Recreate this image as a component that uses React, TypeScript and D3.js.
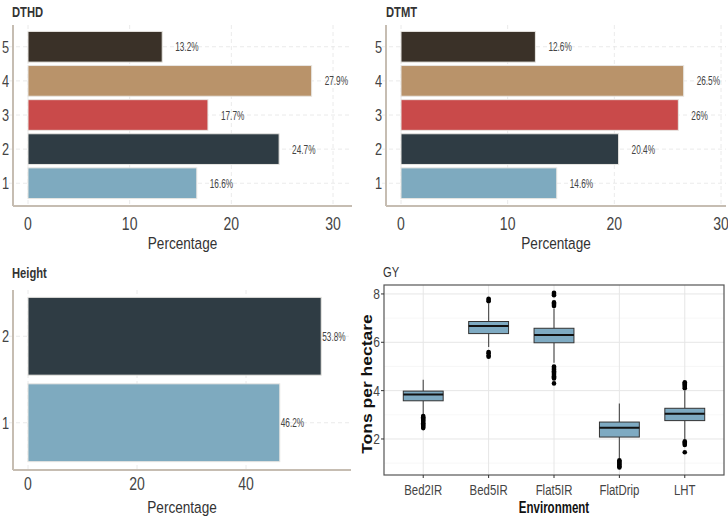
import React from "react";
import * as d3 from "d3";

const levels5 = ["1", "2", "3", "4", "5"];
const dthdValues = [16.6, 24.7, 17.7, 27.9, 13.2];
const dthdLabels = ["16.6%", "24.7%", "17.7%", "27.9%", "13.2%"];
const dtmtValues = [14.6, 20.4, 26, 26.5, 12.6];
const dtmtLabels = ["14.6%", "20.4%", "26%", "26.5%", "12.6%"];
const levels2 = ["1", "2"];
const heightValues = [46.2, 53.8];
const heightLabels = ["46.2%", "53.8%"];
const barColors = ["#7eaabf", "#2f3c44", "#c94a4a", "#b9936a", "#3a3128"];

const envs = ["Bed2IR", "Bed5IR", "Flat5IR", "FlatDrip", "LHT"];
const gyQ1 = [3.58, 6.36, 5.98, 2.08, 2.76];
const gyMedian = [3.84, 6.67, 6.3, 2.46, 3.04];
const gyQ3 = [3.98, 6.86, 6.58, 2.7, 3.27];
const gyLow = [3.0, 5.8, 5.15, 1.2, 2.0];
const gyHigh = [4.45, 7.6, 7.4, 3.47, 4.0];
const gyOutliers = [
  [2.95, 2.9, 2.85, 2.8, 2.75, 2.7, 2.65, 2.6, 2.55, 2.5, 2.45],
  [7.8, 7.75, 7.7, 5.6, 5.55, 5.45, 5.4],
  [8.05, 8.0, 7.95, 7.65, 7.6, 7.55, 7.5, 5.0, 4.95, 4.9, 4.85, 4.8, 4.75, 4.7, 4.65, 4.6, 4.55, 4.5, 4.3],
  [1.12, 1.07, 1.02, 0.97, 0.92, 0.87, 0.82],
  [4.35, 4.3, 4.25, 4.2, 4.15, 4.1, 1.9, 1.85, 1.8, 1.75, 1.45],
];
const gyTicks = [2, 4, 6, 8];
const gyMinor = [1, 3, 5, 7];

const FONT = "'Liberation Sans', Arial, sans-serif";
const AXIS = "#c6bdb2";

type CTextProps = {
  x: number;
  y: number;
  sx?: number;
  size: number;
  anchor?: "start" | "middle" | "end";
  bold?: boolean;
  fill?: string;
  children: React.ReactNode;
};

function CText({ x, y, sx = 0.8, size, anchor = "start", bold = false, fill = "#444", children }: CTextProps) {
  return (
    <text
      transform={`translate(${x},${y}) scale(${sx},1)`}
      textAnchor={anchor}
      fontFamily={FONT}
      fontWeight={bold ? "bold" : "normal"}
      fontSize={size}
      fill={fill}
    >
      {children}
    </text>
  );
}

type BarPanelProps = {
  title: string;
  titleX: number;
  titleY: number;
  levels: string[];
  values: number[];
  labels: string[];
  colors: string[];
  xDomain: [number, number];
  xRange: [number, number];
  xTicks: number[];
  yTop: number;
  yBottom: number;
  axisX: number;
  axisRight: number;
  labelOffset: number;
  tickOffset: number;
  paddingInner: number;
  paddingOuter: number;
};

function BarPanel(p: BarPanelProps) {
  const x = d3.scaleLinear().domain(p.xDomain).range(p.xRange);
  const y = d3
    .scaleBand()
    .domain(p.levels)
    .range([p.yBottom, p.yTop])
    .paddingInner(p.paddingInner)
    .paddingOuter(p.paddingOuter);
  const axisY = p.yBottom + 4;
  return (
    <g>
      <CText x={p.titleX} y={p.titleY} size={14} bold fill="#333">
        {p.title}
      </CText>
      {p.xTicks.map((t) => (
        <line key={"gx" + t} x1={x(t)} x2={x(t)} y1={p.yTop - 3} y2={axisY} stroke="#e4e4e4" strokeDasharray="4,3" strokeWidth={0.8} />
      ))}
      {p.levels.map((l) => {
        const cy = (y(l) as number) + y.bandwidth() / 2;
        return (
          <line key={"gy" + l} x1={p.axisX - 4} x2={p.axisRight} y1={cy} y2={cy} stroke="#e4e4e4" strokeDasharray="4,3" strokeWidth={0.8} />
        );
      })}
      {p.levels.map((l, i) => {
        const y0 = y(l) as number;
        const cy = y0 + y.bandwidth() / 2;
        return (
          <g key={"b" + l}>
            <rect
              x={x(0)}
              y={y0}
              width={x(p.values[i]) - x(0)}
              height={y.bandwidth()}
              fill={p.colors[i]}
              stroke="#e8e6e2"
              strokeWidth={1}
            />
            <CText x={x(p.values[i]) + p.labelOffset} y={cy + 4.5} size={12.5} sx={0.66} fill="#444">
              {p.labels[i]}
            </CText>
            <CText x={p.axisX - 4} y={cy + 6} size={17} sx={0.75} anchor="end" fill="#444">
              {l}
            </CText>
          </g>
        );
      })}
      <line x1={p.axisX} x2={p.axisX} y1={p.yTop - 3} y2={axisY} stroke={AXIS} strokeWidth={2} />
      <line x1={p.axisX} x2={p.axisRight} y1={axisY} y2={axisY} stroke={AXIS} strokeWidth={2} />
      {p.xTicks.map((t) => (
        <CText key={"tx" + t} x={x(t)} y={axisY + p.tickOffset} size={18} sx={0.78} anchor="middle" fill="#444">
          {t}
        </CText>
      ))}
      <CText x={(p.axisX + p.axisRight) / 2} y={axisY + 43} size={17} sx={0.8} anchor="middle" fill="#333">
        Percentage
      </CText>
    </g>
  );
}

function BoxPanel() {
  const left = 384,
    right = 724,
    top = 285,
    bottom = 475;
  const x = d3.scalePoint().domain(envs).range([left, right]).padding(0.6);
  const bw = x.step() * 0.61;
  const y = d3.scaleLinear().domain([0.51, 8.37]).range([bottom, top]);
  return (
    <g>
      <CText x={383} y={277} size={14} sx={0.8} fill="#333">
        GY
      </CText>
      <rect x={left} y={top} width={right - left} height={bottom - top} fill="white" />
      {gyMinor.map((t) => (
        <line key={"mn" + t} x1={left} x2={right} y1={y(t)} y2={y(t)} stroke="#f2f2f2" strokeWidth={0.6} />
      ))}
      {gyTicks.map((t) => (
        <line key={"mj" + t} x1={left} x2={right} y1={y(t)} y2={y(t)} stroke="#e6e6e6" strokeWidth={1} />
      ))}
      {envs.map((e) => {
        const cx = x(e) as number;
        return <line key={"vx" + e} x1={cx} x2={cx} y1={top} y2={bottom} stroke="#e6e6e6" strokeWidth={1} />;
      })}
      {envs.map((e, i) => {
        const cx = x(e) as number;
        const x0 = cx - bw / 2;
        return (
          <g key={"box" + e}>
            <line x1={cx} x2={cx} y1={y(gyHigh[i])} y2={y(gyQ3[i])} stroke="#555" strokeWidth={1.2} />
            <line x1={cx} x2={cx} y1={y(gyQ1[i])} y2={y(gyLow[i])} stroke="#555" strokeWidth={1.2} />
            <rect
              x={x0}
              y={y(gyQ3[i])}
              width={bw}
              height={y(gyQ1[i]) - y(gyQ3[i])}
              fill="#7eaac2"
              stroke="#333"
              strokeWidth={1}
            />
            <line x1={x0} x2={x0 + bw} y1={y(gyMedian[i])} y2={y(gyMedian[i])} stroke="#111" strokeWidth={2} />
            {gyOutliers[i].map((v, k) => (
              <circle key={k} cx={cx} cy={y(v)} r={2.3} fill="#000" />
            ))}
          </g>
        );
      })}
      <rect x={left} y={top} width={right - left} height={bottom - top} fill="none" stroke="#555" strokeWidth={1.2} />
      {gyTicks.map((t) => (
        <g key={"yt" + t}>
          <line x1={left - 3} x2={left} y1={y(t)} y2={y(t)} stroke="#333" />
          <CText x={left - 4} y={y(t) + 5} size={15} sx={0.8} anchor="end" fill="#444">
            {t}
          </CText>
        </g>
      ))}
      {envs.map((e) => {
        const cx = x(e) as number;
        return (
          <g key={"xt" + e}>
            <line x1={cx} x2={cx} y1={bottom} y2={bottom + 3} stroke="#333" />
            <CText x={cx} y={bottom + 20} size={15} sx={0.76} anchor="middle" fill="#444">
              {e}
            </CText>
          </g>
        );
      })}
      <CText x={(left + right) / 2} y={bottom + 38} size={16} sx={0.72} anchor="middle" bold fill="#111">
        Environment
      </CText>
      <text
        transform={`translate(${372},${384}) rotate(-90) scale(1,0.8)`}
        textAnchor="middle"
        fontFamily={FONT}
        fontWeight="bold"
        fontSize={17.5}
        fill="#111"
      >
        Tons per hectare
      </text>
    </g>
  );
}

export default function App() {
  return (
    <svg width={728} height={519} style={{ position: "absolute", left: 0, top: 0, background: "white" }}>
      <BarPanel
        title="DTHD"
        titleX={12}
        titleY={17}
        levels={levels5}
        values={dthdValues}
        labels={dthdLabels}
        colors={barColors}
        xDomain={[0, 30]}
        xRange={[28, 333]}
        xTicks={[0, 10, 20, 30]}
        yTop={28}
        yBottom={202}
        axisX={13}
        axisRight={352}
        labelOffset={13}
        tickOffset={24}
        paddingInner={0.1}
        paddingOuter={0.1}
      />
      <BarPanel
        title="DTMT"
        titleX={386}
        titleY={17}
        levels={levels5}
        values={dtmtValues}
        labels={dtmtLabels}
        colors={barColors}
        xDomain={[0, 30]}
        xRange={[401, 721]}
        xTicks={[0, 10, 20, 30]}
        yTop={28}
        yBottom={202}
        axisX={386}
        axisRight={726}
        labelOffset={13}
        tickOffset={24}
        paddingInner={0.1}
        paddingOuter={0.1}
      />
      <BarPanel
        title="Height"
        titleX={12}
        titleY={278}
        levels={levels2}
        values={heightValues}
        labels={heightLabels}
        colors={barColors}
        xDomain={[0, 40]}
        xRange={[28, 246]}
        xTicks={[0, 20, 40]}
        yTop={293}
        yBottom={466}
        axisX={13}
        axisRight={351}
        labelOffset={1}
        tickOffset={20}
        paddingInner={0.1}
        paddingOuter={0.05}
      />
      <BoxPanel />
    </svg>
  );
}
